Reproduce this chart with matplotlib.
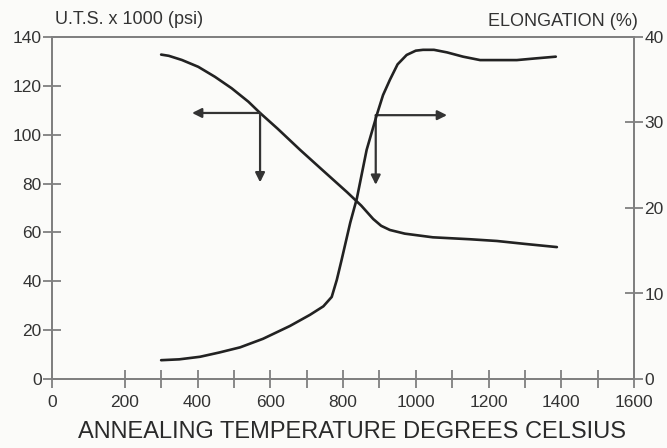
import matplotlib
matplotlib.use("Agg")
import matplotlib.pyplot as plt
import numpy as np

plt.rcParams['font.family'] = ['Liberation Sans', 'DejaVu Sans']

# UTS curve (left axis, x1000 psi)
uts_temp = [300, 321, 357, 402, 448, 494, 540, 572, 620, 682, 740, 811, 850, 883,
            905, 929, 970, 1047, 1150, 1223, 1300, 1388]
uts_vals = [132.8, 132.3, 130.6, 127.8, 123.7, 119.0, 113.5, 108.9, 102.5, 93.8, 86,
            76.5, 71, 65.5, 62.7, 61, 59.5, 58, 57.2, 56.5, 55.3, 54]

# Elongation curve (right axis, %)
elong_temp = [300, 350, 407, 460, 517, 580, 654, 709, 746, 769, 783, 796, 820, 838,
              865, 893, 910, 929, 950, 975, 1000, 1020, 1050, 1086, 1130, 1177, 1230,
              1278, 1330, 1385]
elong_vals = [2.2, 2.3, 2.6, 3.1, 3.7, 4.7, 6.2, 7.5, 8.5, 9.6, 11.6, 13.9, 18.3, 21.1,
              26.8, 30.9, 33.2, 35.0, 36.8, 37.9, 38.4, 38.5, 38.5, 38.2, 37.7, 37.3,
              37.3, 37.3, 37.5, 37.7]

x_major = [0, 200, 400, 600, 800, 1000, 1200, 1400, 1600]
x_minor = [300, 500, 700, 900, 1100, 1300, 1500]
y_left = [0, 20, 40, 60, 80, 100, 120, 140]
y_right = [0, 10, 20, 30, 40]

fig = plt.figure(figsize=(6.67, 4.48), dpi=100, facecolor='#fbfbf9')
ax = fig.add_axes([52/667, (448-379)/448, (634-52)/667, (379-37)/448])
ax.set_facecolor('#fbfbf9')
ax2 = ax.twinx()

spine_c = '#808080'
line_c = '#222222'

ax.plot(uts_temp, uts_vals, color=line_c, lw=1.9, solid_capstyle='round',
        solid_joinstyle='round')
ax2.plot(elong_temp, elong_vals, color=line_c, lw=1.9, solid_capstyle='round',
         solid_joinstyle='round')

ax.set_xlim(0, 1600)
ax.set_ylim(0, 140)
ax2.set_ylim(0, 40)

for a in (ax, ax2):
    for s in a.spines.values():
        s.set_color(spine_c)
        s.set_linewidth(1.4)

ax.set_xticks(x_major)
ax.set_xticks(x_minor, minor=True)
ax.set_yticks(y_left)
ax2.set_yticks(y_right)

tick_fs = 12.5
ax.tick_params(axis='x', which='both', direction='inout', length=13, width=1.3,
               color=spine_c, labelsize=tick_fs, labelcolor='#333333', pad=5)
ax.tick_params(axis='y', direction='inout', length=13, width=1.3,
               color=spine_c, labelsize=tick_fs, labelcolor='#333333', pad=1)
ax2.tick_params(axis='y', direction='inout', length=13, width=1.3,
                color=spine_c, labelsize=tick_fs, labelcolor='#333333', pad=1)

fig.text(0.5 + (352 - 333.5)/667, 1 - 432/448, 'ANNEALING TEMPERATURE DEGREES CELSIUS',
         fontsize=17, color='#2a2a2a', ha='center', va='center')

fig.text(55/667, 1 - 20/448, 'U.T.S. x 1000 (psi)', fontsize=13, color='#333333',
         ha='left', va='center')
fig.text(638/667, 1 - 21/448, 'ELONGATION (%)', fontsize=13, color='#333333',
         ha='right', va='center')

arrow_c = '#333333'
aprops = dict(arrowstyle='-|>', color=arrow_c, lw=1.6, mutation_scale=14,
              shrinkA=0, shrinkB=0)
# left arrows (from UTS curve)
ax.annotate('', xy=(385, 108.9), xytext=(572, 108.9), arrowprops=aprops)
ax.annotate('', xy=(572, 80.5), xytext=(572, 108.9), arrowprops=aprops)
# right arrows (from elongation curve)
ax.annotate('', xy=(1086, 108), xytext=(890, 108), arrowprops=aprops)
ax.annotate('', xy=(890, 79.5), xytext=(890, 108), arrowprops=aprops)

fig.savefig('out.png', dpi=100, facecolor=fig.get_facecolor())
